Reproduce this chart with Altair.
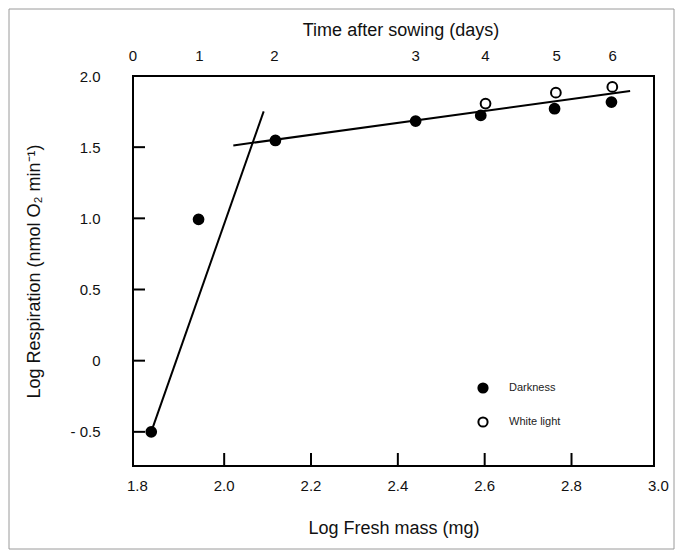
import altair as alt
import pandas as pd

# ---- data ----
x_tick_values = [1.8, 2.0, 2.2, 2.4, 2.6, 2.8, 3.0]
y_tick_values = [-0.5, 0.0, 0.5, 1.0, 1.5, 2.0]
day_labels = ["0", "1", "2", "3", "4", "5", "6"]
day_positions = [1.79, 1.943, 2.116, 2.441, 2.602, 2.766, 2.895]

dark_x = [1.832, 1.941, 2.118, 2.441, 2.591, 2.761, 2.892]
dark_y = [-0.5, 0.993, 1.547, 1.683, 1.723, 1.770, 1.817]
light_x = [2.602, 2.764, 2.894]
light_y = [1.806, 1.883, 1.923]

steep_x = [1.832, 2.091]
steep_y = [-0.5, 1.751]
flat_x = [2.021, 2.935]
flat_y = [1.512, 1.894]

W, H = 521, 390
FONT = "Liberation Sans"

points = pd.DataFrame({
    "x": dark_x + light_x,
    "y": dark_y + light_y,
    "cond": ["Darkness"] * len(dark_x) + ["White light"] * len(light_x),
})
lines = pd.DataFrame({
    "x": steep_x + flat_x,
    "y": steep_y + flat_y,
    "seg": ["steep"] * 2 + ["flat"] * 2,
})
xt = pd.DataFrame({"v": x_tick_values})
xt["lab"] = [f"{v:.1f}" for v in x_tick_values]
xt_inner = xt[(xt.v > 1.85) & (xt.v < 2.95)]
yt_inner = pd.DataFrame({"v": [v for v in y_tick_values if v < 1.9]})
days = pd.DataFrame({"x": day_positions, "lab": day_labels})

xs = alt.Scale(domain=[1.79, 2.99], nice=False, zero=False)
ys = alt.Scale(domain=[-0.74, 2.0], nice=False, zero=False)
xaxis = alt.Axis(title="Log Fresh mass (mg)", labels=False, ticks=False, domain=False,
                 grid=False, titleFontSize=18, titleFont=FONT, titleFontWeight="normal",
                 titlePadding=53, titleColor="#111")
yaxis = alt.Axis(title="Log Respiration (nmol O₂ min⁻¹)", values=y_tick_values, ticks=False,
                 domain=False, grid=False, labelPadding=33, labelFontSize=15, labelFont=FONT,
                 labelColor="#111",
                 labelExpr="datum.value == 0 ? '0' : (datum.value < 0 ? '- ' + format(-datum.value, '.1f') : format(datum.value, '.1f'))",
                 titleFontSize=18, titleFont=FONT, titleFontWeight="normal", titlePadding=26,
                 titleColor="#111")


def X(f):
    return alt.X(f, type="quantitative", scale=xs, axis=xaxis)


def Y(f):
    return alt.Y(f, type="quantitative", scale=ys, axis=yaxis)


border = alt.Chart(alt.Data(values=[{}])).mark_rect(
    filled=False, stroke="#9a9a9a", strokeWidth=1
).encode(x=alt.value(-124), x2=alt.value(541), y=alt.value(-67), y2=alt.value(473))

xticks = alt.Chart(xt_inner).mark_rule(color="black", strokeWidth=2).encode(
    x=X("v"), y=alt.value(H), y2=alt.value(H - 13))

yticks = alt.Chart(yt_inner).mark_rule(color="black", strokeWidth=2).encode(
    y=Y("v"), x=alt.value(0), x2=alt.value(12))

xlabels = alt.Chart(xt).mark_text(font=FONT, fontSize=15, color="#111", baseline="middle").encode(
    x=X("v"), y=alt.value(H + 20), text="lab:N")

toplabels = alt.Chart(days).mark_text(font=FONT, fontSize=15, color="#111", baseline="middle").encode(
    x=X("x"), y=alt.value(-20), text="lab:N")

toptitle = alt.Chart(alt.Data(values=[{"t": "Time after sowing (days)"}])).mark_text(
    font=FONT, fontSize=18, color="#111", baseline="middle").encode(
    x=alt.value(268), y=alt.value(-45), text="t:N")

line_layer = alt.Chart(lines).mark_line(color="black", strokeWidth=2).encode(
    x=X("x"), y=Y("y"), detail="seg:N")

point_layer = alt.Chart(points).mark_point(
    shape="circle", filled=True, stroke="black", strokeWidth=2, size=95, opacity=1
).encode(
    x=X("x"), y=Y("y"),
    fill=alt.Fill("cond:N", scale=alt.Scale(domain=["Darkness", "White light"], range=["black", "white"]),
                  legend=alt.Legend(title=None, orient="none", legendX=344, legendY=306,
                                    padding=0, symbolType="circle", symbolSize=85,
                                    symbolStrokeColor="black", symbolStrokeWidth=2,
                                    symbolOpacity=1,
                                    labelFont=FONT, labelFontSize=11, labelColor="#222",
                                    labelOffset=20, rowPadding=16)),
)

chart = alt.layer(border, point_layer, line_layer, xticks, yticks, xlabels, toplabels, toptitle).properties(
    width=W, height=H, padding=0
).configure_view(stroke="black", strokeWidth=2)

chart.save("out.html", embed_options={"renderer": "svg", "actions": False})
